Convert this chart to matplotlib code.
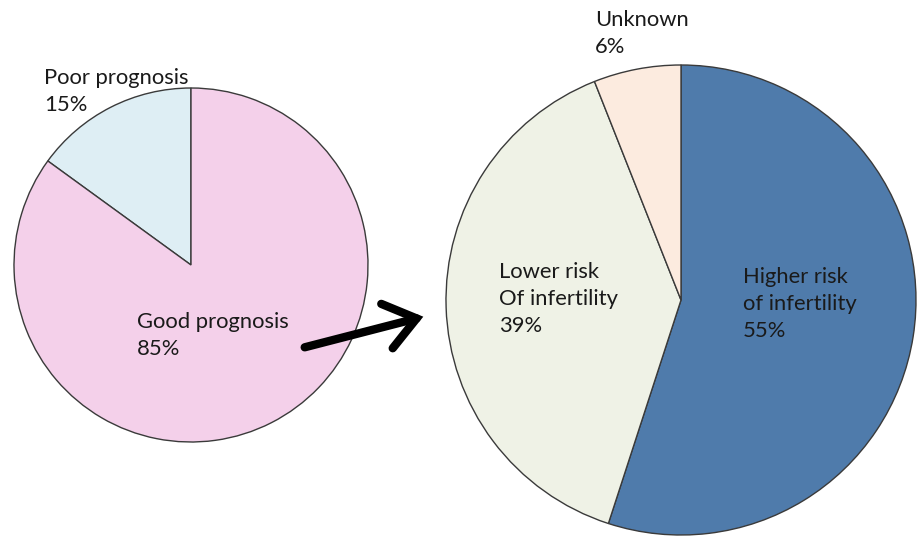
import matplotlib
matplotlib.use("Agg")
import matplotlib.pyplot as plt
from matplotlib.patches import FancyArrowPatch

# Prognosis split
prog_labels = ["Poor prognosis", "Good prognosis"]
prog_values = [15, 85]
prog_colors = ["#DEEEF4", "#F4D0EA"]

# Fertility risk within the good-prognosis group
risk_labels = ["Higher risk\nof infertility", "Lower risk\nOf infertility", "Unknown"]
risk_values = [55, 39, 6]
risk_colors = ["#4F7BAB", "#EFF2E6", "#FCEBDF"]

W, H = 917, 537
fig = plt.figure(figsize=(W / 100, H / 100), dpi=100)
ax = fig.add_axes([0, 0, 1, 1])

font = dict(family=["Lato", "DejaVu Sans"], fontsize=15.8, color="#1a1a1a",
            linespacing=1.45)

edge = dict(edgecolor="#3a3a3a", linewidth=1.0)

# left pie
ax.pie(prog_values, colors=prog_colors, startangle=90, counterclock=True,
       center=(191, H - 265), radius=177, wedgeprops=edge, frame=True)

# right pie
ax.pie(risk_values, colors=risk_colors, startangle=90, counterclock=False,
       center=(681, H - 300), radius=235, wedgeprops=edge, frame=True)

ax.set_xlim(0, W)
ax.set_ylim(0, H)
ax.set_aspect("equal")
ax.axis("off")

ax.text(44, H - 68, f"{prog_labels[0]}\n{prog_values[0]}%", va="top", ha="left", **font)
ax.text(137, H - 312, f"{prog_labels[1]}\n{prog_values[1]}%", va="top", ha="left", **font)
ax.text(595, H - 10, f"{risk_labels[2]}\n{risk_values[2]}%", va="top", ha="left", **font)
ax.text(499, H - 262, f"{risk_labels[1]}\n{risk_values[1]}%", va="top", ha="left", **font)
ax.text(743, H - 267, f"{risk_labels[0]}\n{risk_values[0]}%", va="top", ha="left", **font)

arrow = FancyArrowPatch((302, H - 348), (426, H - 316),
                        arrowstyle="->,head_length=1.0,head_width=0.75",
                        mutation_scale=22, color="black", linewidth=6,
                        capstyle="round", joinstyle="miter")
ax.add_patch(arrow)

fig.savefig("out.png", dpi=100, facecolor="white")
